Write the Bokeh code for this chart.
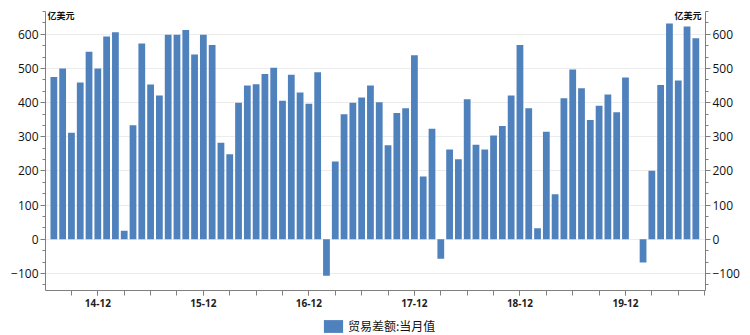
import numpy as np
from bokeh.plotting import figure
from bokeh.layouts import column
from bokeh.models import (Range1d, LinearAxis, FixedTicker, SingleIntervalTicker,
                          ColumnDataSource, Legend, LegendItem, Label)
from bokeh.embed import file_html
from bokeh.resources import INLINE

# ---------------- data ----------------
months = [
    "14-07", "14-08", "14-09", "14-10", "14-11", "14-12",
    "15-01", "15-02", "15-03", "15-04", "15-05", "15-06", "15-07", "15-08", "15-09", "15-10", "15-11", "15-12",
    "16-01", "16-02", "16-03", "16-04", "16-05", "16-06", "16-07", "16-08", "16-09", "16-10", "16-11", "16-12",
    "17-01", "17-02", "17-03", "17-04", "17-05", "17-06", "17-07", "17-08", "17-09", "17-10", "17-11", "17-12",
    "18-01", "18-02", "18-03", "18-04", "18-05", "18-06", "18-07", "18-08", "18-09", "18-10", "18-11", "18-12",
    "19-01", "19-02", "19-03", "19-04", "19-05", "19-06", "19-07", "19-08", "19-09", "19-10", "19-11", "19-12",
    "20-01", "20-02", "20-03", "20-04", "20-05", "20-06", "20-07", "20-08",
]
trade_balance = [
    475, 500, 312, 459, 549, 500,
    594, 606, 25, 334, 573, 453, 421, 599, 599, 613, 541, 599,
    569, 283, 249, 400, 450, 454, 484, 502, 406, 482, 430, 397,
    489, -107, 228, 366, 400, 415, 450, 401, 275, 370, 384, 539,
    184, 324, -57, 263, 234, 410, 277, 263, 304, 332, 421, 569,
    384, 32, 315, 132, 413, 497, 442, 349, 391, 424, 372, 474,
    None, -68, 201, 452, 632, 465, 623, 589,
]
series_name = "贸易差额:当月值"
unit_label = "亿美元"
tick_labels = ["14-12", "15-12", "16-12", "17-12", "18-12", "19-12"]

BAR_COLOR = "#4F81BD"

# ---------------- build ----------------
idx = list(range(len(months)))
vals = [np.nan if v is None else v for v in trade_balance]
src = ColumnDataSource(dict(x=idx, top=vals, m=months))

label_pos = [months.index(t) for t in tick_labels]

p = figure(width=750, height=310, output_backend="svg", toolbar_location=None,
           x_range=Range1d(-0.95, 74.1), y_range=Range1d(-150, 667),
           min_border_left=45, min_border_right=45, min_border_top=11, min_border_bottom=20,
           outline_line_color=None, background_fill_color="white", border_fill_color="white")

r = p.vbar(x="x", top="top", bottom=0, width=0.77, source=src,
           fill_color=BAR_COLOR, line_color=None)

# x axis
xa = p.xaxis[0]
xa.ticker = FixedTicker(ticks=label_pos, minor_ticks=list(range(-1, 75, 3)))
xa.major_label_overrides = {i: months[i] for i in label_pos}
xa.major_label_text_font = "Noto Sans"
xa.major_label_text_font_size = "10px"
xa.major_label_text_font_style = "bold"
xa.major_label_text_color = "#222222"
xa.axis_line_color = "#7f7f7f"
xa.major_tick_line_color = "#7f7f7f"
xa.minor_tick_line_color = "#7f7f7f"
xa.major_tick_out = 5
xa.major_tick_in = 0
xa.minor_tick_out = 5
xa.minor_tick_in = 0
xa.major_label_standoff = 3

# y axes
def style_y(ax):
    ax.ticker = SingleIntervalTicker(interval=100, num_minor_ticks=3)
    ax.major_label_text_font = "Open Sans"
    ax.major_label_text_font_size = "12px"
    ax.major_label_text_color = "#111111"
    ax.axis_line_color = "#7f7f7f"
    ax.major_tick_line_color = "#7f7f7f"
    ax.minor_tick_line_color = "#7f7f7f"
    ax.major_tick_out = 5
    ax.major_tick_in = 0
    ax.minor_tick_out = 3
    ax.minor_tick_in = 0
    ax.major_label_standoff = 2

style_y(p.yaxis[0])
ra = LinearAxis()
style_y(ra)
p.add_layout(ra, "right")

p.xgrid.grid_line_color = None
p.ygrid.ticker = SingleIntervalTicker(interval=100)
p.ygrid.grid_line_color = "#ececec"
p.ygrid.grid_line_width = 1

# unit labels
for xx, align in ((2, "left"), (656, "right")):
    p.add_layout(Label(x=xx, y=275, x_units="screen", y_units="screen", text=unit_label,
                       text_font="Noto Sans CJK SC", text_font_size="9px", text_font_style="bold",
                       text_color="#111111", text_align=align, text_baseline="middle"))

# legend strip below
lg = figure(width=750, height=25, output_backend="svg", toolbar_location=None,
            x_range=Range1d(0, 1), y_range=Range1d(0, 1),
            min_border=0, outline_line_color=None, border_fill_color="white",
            background_fill_color="white")
lg.axis.visible = False
lg.grid.visible = False
dummy = lg.vbar(x=[-10], top=[-10], bottom=[-11], width=0.5,
                fill_color=BAR_COLOR, line_color=None)
legend = Legend(items=[LegendItem(label=series_name, renderers=[dummy])],
                location=(276, 1), orientation="horizontal",
                glyph_width=24, glyph_height=16, padding=0, margin=0, spacing=0,
                label_text_font="Noto Sans CJK SC", label_text_font_size="12px",
                label_text_color="#111111", label_standoff=3, label_height=16,
                border_line_color=None, background_fill_alpha=0)
lg.add_layout(legend, "center")

layout = column(p, lg, spacing=0)
open("out.html", "w").write(file_html(layout, INLINE))
